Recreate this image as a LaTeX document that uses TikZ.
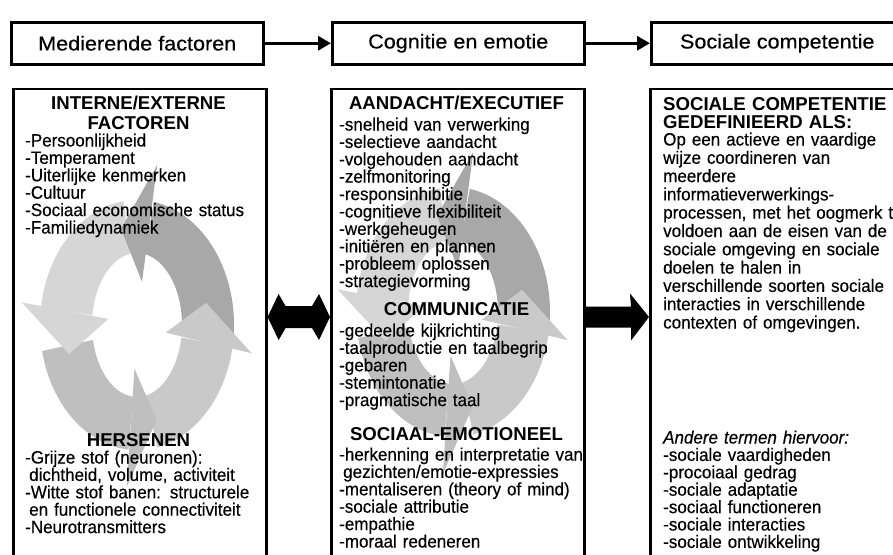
\documentclass[tikz,border=0pt]{standalone}
\usepackage{fontspec}
\setmainfont{Liberation Sans}
\newfontfamily\hdrfont{Liberation Sans}[FakeStretch=1.08,FakeBold=0.4]
\newfontfamily\bodyfont{Liberation Sans}[FakeStretch=0.95,FakeBold=0.35]
\usetikzlibrary{arrows.meta,calc}
\AtBeginDocument{\setlength{\lineskiplimit}{-100pt}}

\definecolor{ringdark}{gray}{0.66}
\definecolor{ringlight}{gray}{0.84}
\definecolor{ringll}{gray}{0.75}
\definecolor{ringlr}{gray}{0.79}

% ring segment: colour, start angle, end angle (scaled unit frame)
\newcommand\ringseg[3]{\fill[#1] (#2:1 and 1) arc[start angle=#2,end angle=#3,x radius=1,y radius=1]
  -- (#3:0.464 and 0.576) arc[start angle=#3,end angle=#2,x radius=0.464,y radius=0.576] -- cycle;}
% arrow head: colour, base angle, tip angle
\newcommand\ringhead[3]{\fill[#1] (#2:1.2 and 1.3) -- (#3:0.732 and 0.79) -- (#2:0.3 and 0.35) -- cycle;}
\newcommand\cyclering[2]{%
  \begin{scope}[shift={(#1,#2)},xscale=97,yscale=-125]
    \ringseg{ringdark}{-4}{80}
    \ringseg{ringlight}{98}{172}
    \ringseg{ringll}{192}{265}
    \ringseg{ringlr}{282}{350}
    \ringhead{ringdark}{80}{103}
    \ringhead{ringlight}{172}{197}
    \ringhead{ringll}{265}{286}
    \ringhead{ringlr}{350}{373}
  \end{scope}}

\tikzset{
  hdrbox/.style={draw, line width=2.5pt, minimum width=252pt, minimum height=42pt,
    inner sep=0pt, anchor=north west, font=\hdrfont\fontsize{20}{24}\selectfont},
  mainbox/.style={draw, line width=2.6pt, minimum height=500pt, inner sep=0pt, anchor=north west},
  hdrarrow/.style={line width=3pt, -{Triangle[length=13pt,width=14pt]}},
  bigarrow/.style={fill=black, draw=none},
  bd/.style={anchor=base west, align=left, text width=300pt, inner sep=0pt,
    font=\bodyfont\fontsize{17.9}{17.4}\selectfont},
  bdwide/.style={bd, font=\bodyfont\fontsize{17.9}{18.3}\selectfont},
  hd/.style={anchor=base, align=center, text width=250pt, inner sep=0pt,
    font=\bfseries\fontsize{18.6}{20}\selectfont},
  hdl/.style={anchor=base west, align=left, text width=300pt, inner sep=0pt,
    font=\bfseries\fontsize{18.6}{18}\selectfont},
}

\begin{document}
\begin{tikzpicture}[x=1pt,y=-1pt]
\useasboundingbox (0,0) rectangle (893,554);
\clip (0,0) rectangle (893,554);
\fill[white] (0,0) rectangle (893,554);

% header row
\node[hdrbox] (h1) at (10,21) {Medierende factoren};
\node[hdrbox] (h2) at (331,21) {Cognitie en emotie};
\node[hdrbox] (h3) at (650,21) {Sociale competentie};
\draw[hdrarrow] (h1.east) -- (h2.west);
\draw[hdrarrow] (h2.east) -- (h3.west);

% cycle watermarks
\cyclering{137}{325}
\cyclering{453}{312}

% main boxes
\node[mainbox, minimum width=253pt] (lbox) at (12,87.5) {};
\node[mainbox, minimum width=253pt] (mbox) at (330,87.5) {};
\node[mainbox, minimum width=262pt] (rbox) at (649,87.5) {};

% big arrows
\coordinate (arow) at (0,317);
\coordinate (dl) at (lbox.east |- arow);
\coordinate (dr) at (mbox.west |- arow);
\coordinate (sl) at (mbox.east |- arow);
\coordinate (sr) at (rbox.west |- arow);
\fill[bigarrow] (dl) -- ($(dl)+(11,-23)$) -- ($(dl)+(18,-11)$) -- ($(dr)+(-18,-11)$)
  -- ($(dr)+(-11,-23)$) -- (dr) -- ($(dr)+(-11,23)$) -- ($(dr)+(-18,11)$)
  -- ($(dl)+(18,11)$) -- ($(dl)+(11,23)$) -- cycle;
\fill[bigarrow] ($(sl)+(0,-10.5)$) -- ($(sr)+(-18,-10.5)$) -- ($(sr)+(-19,-23.5)$) -- (sr)
  -- ($(sr)+(-18,23.5)$) -- ($(sr)+(-18,10.5)$) -- ($(sl)+(0,10.5)$) -- cycle;

% left box text
\node[hd] (l1) at (138.5,109.5) {INTERNE/EXTERNE\\FACTOREN};
\node[bd] (l2) at (25,146.5) {-Persoonlijkheid\\-Temperament\\-Uiterlijke kenmerken\\-Cultuur\\-Sociaal economische status\\-Familiedynamiek};
\node[hd] (l3) at (138.5,446.5) {HERSENEN};
\node[bd] (l4) at (25,463.5) {-Grijze stof (neuronen):\\\hspace*{4pt}dichtheid, volume, activiteit\\-Witte stof banen: structurele\\\hspace*{4pt}en functionele connectiviteit\\-Neurotransmitters};

% middle box text
\node[hd] (m1) at (456.5,109.5) {AANDACHT/EXECUTIEF};
\node[bd] (m2) at (339,130.5) {-snelheid van verwerking\\-selectieve aandacht\\-volgehouden aandacht\\-zelfmonitoring\\-responsinhibitie\\-cognitieve flexibiliteit\\-werkgeheugen\\-initiëren en plannen\\-probleem oplossen\\-strategievorming};
\node[hd] (m3) at (456.5,315.5) {COMMUNICATIE};
\node[bd] (m4) at (339,336.5) {-gedeelde kijkrichting\\-taalproductie en taalbegrip\\-gebaren\\-stemintonatie\\-pragmatische taal};
\node[hd] (m5) at (456.5,440.5) {SOCIAAL-EMOTIONEEL};
\node[bd] (m6) at (339,460.5) {-herkenning en interpretatie van\\\hspace*{4pt}gezichten/emotie-expressies\\-mentaliseren (theory of mind)\\-sociale attributie\\-empathie\\-moraal redeneren};

% right box text
\node[hdl] (r1) at (663,110.5) {SOCIALE COMPETENTIE\\GEDEFINIEERD ALS:};
\node[bdwide] (r2) at (663,145.5) {Op een actieve en vaardige\\wijze coordineren van\\meerdere\\informatieverwerkings-\\processen, met het oogmerk te\\voldoen aan de eisen van de\\sociale omgeving en sociale\\doelen te halen in\\verschillende soorten sociale\\interacties in verschillende\\contexten of omgevingen.};
\node[bd] (r3) at (663,443.5) {{\itshape Andere termen hiervoor:}\\-sociale vaardigheden\\-procoiaal gedrag\\-sociale adaptatie\\-sociaal functioneren\\-sociale interacties\\-sociale ontwikkeling};
\end{tikzpicture}
\end{document}
